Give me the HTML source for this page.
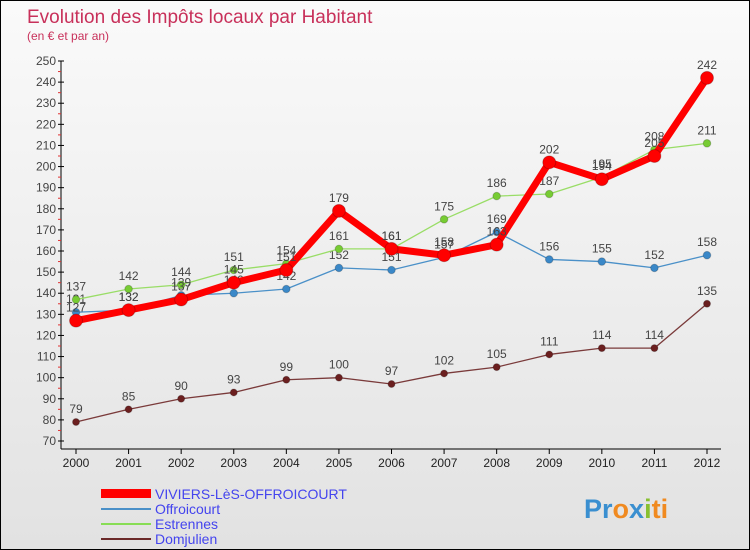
<!DOCTYPE html>
<html><head><meta charset="utf-8"><style>
body{margin:0}
#c{width:750px;height:550px;position:relative;background:linear-gradient(#fafafa,#e2e2e2);box-sizing:border-box;border:1px solid #000;overflow:hidden;font-family:"Liberation Sans",sans-serif}
svg text{font-family:"Liberation Sans",sans-serif}
</style></head><body>
<div id="c">
<svg id="s" width="750" height="550">
<text x="26" y="22" font-size="19" fill="#c8305a">Evolution des Impôts locaux par Habitant</text>
<text x="26" y="39" font-size="12" fill="#c8305a">(en € et par an)</text>
<g id="axes"></g><g id="series"></g>
<g>
<rect x="100" y="488" width="50" height="9" fill="#ff0000"/>
<text x="154" y="498" font-size="14" fill="#4444ee">VIVIERS-LèS-OFFROICOURT</text>
<line x1="100" y1="508" x2="150" y2="508" stroke="#4a90c8" stroke-width="2"/>
<text x="154" y="513" font-size="14" fill="#4444ee">Offroicourt</text>
<line x1="100" y1="523" x2="150" y2="523" stroke="#88dd55" stroke-width="2"/>
<text x="154" y="528" font-size="14" fill="#4444ee">Estrennes</text>
<line x1="100" y1="538" x2="150" y2="538" stroke="#6b2a2a" stroke-width="2"/>
<text x="154" y="543" font-size="14" fill="#4444ee">Domjulien</text>
</g>
<text x="583" y="517" font-size="27" font-weight="bold"><tspan fill="#3a8fd0">Pr</tspan><tspan fill="#f08a20">o</tspan><tspan fill="#3a8fd0">x</tspan><tspan fill="#88c030">i</tspan><tspan fill="#f08a20">ti</tspan></text>
</svg></div>
<script>
const years=[2000,2001,2002,2003,2004,2005,2006,2007,2008,2009,2010,2011,2012];
const viviers=[127,132,137,145,151,179,161,158,163,202,194,205,242];
const offroicourt=[131,132,139,140,142,152,151,157,169,156,155,152,158];
const estrennes=[137,142,144,151,154,161,161,175,186,187,195,208,211];
const domjulien=[79,85,90,93,99,100,97,102,105,111,114,114,135];
const yTicks=[70,80,90,100,110,120,130,140,150,160,170,180,190,200,210,220,230,240,250];
const NS="http://www.w3.org/2000/svg";
const x=i=>75+i*(631/(years.length-1));
const y=v=>440-(v-70)*(380/180);
function mk(t,a,p){const e=document.createElementNS(NS,t);for(const k in a)e.setAttribute(k,a[k]);p.appendChild(e);return e;}
const ax=document.getElementById('axes');
const al=mk('line',{x1:60,y1:y(250),x2:60,y2:y(70)+8,stroke:'#000'},ax);


const xl=mk('line',{x1:60,y1:448,x2:720,y2:448,stroke:'#000'},ax);


const yMax=yTicks[yTicks.length-1];
yTicks.forEach(v=>{
 mk('line',{x1:57,y1:y(v),x2:63,y2:y(v),stroke:'#000'},ax);
 if(v<yMax) mk('line',{x1:57,y1:y(v+5),x2:60,y2:y(v+5),stroke:'#e03030'},ax);
 const t=mk('text',{x:55,y:y(v)+4,'font-size':12,fill:'#444','text-anchor':'end'},ax);t.textContent=v;
 
 
});
years.forEach((yr,i)=>{
 mk('line',{x1:x(i),y1:448,x2:x(i),y2:453,stroke:'#000'},ax);
 const t=mk('text',{x:x(i),y:466,'font-size':12,fill:'#222','text-anchor':'middle'},ax);t.textContent=yr;
 
 
});
const sg=document.getElementById('series');
function series(data,name,color,w,r,dot){
 const g=mk('g',{},sg);
 
 
 const l=mk('polyline',{points:data.map((v,i)=>x(i)+','+y(v)).join(' '),fill:'none',stroke:color,'stroke-width':w,'stroke-linejoin':'round'},g);
 
 
 data.forEach((v,i)=>{
  const c=mk('circle',{cx:x(i),cy:y(v),r:r,fill:dot,stroke:'#00000033'},g);
  
  
  const t=mk('text',{x:x(i),y:y(v)-9,'font-size':12,fill:'#444','text-anchor':'middle'},g);t.textContent=v;
  
  
 });
}
series(domjulien,'domjulien','#7a3a3a',1.3,3.5,'#6b1f1f');
series(offroicourt,'offroicourt','#4a90c8',1.3,3.8,'#3a88c8');
series(estrennes,'estrennes','#99dd66',1.3,3.8,'#77cc33');
series(viviers,'viviers','#ff0000',7,6.5,'#ff0000');
</script>
</body></html>
